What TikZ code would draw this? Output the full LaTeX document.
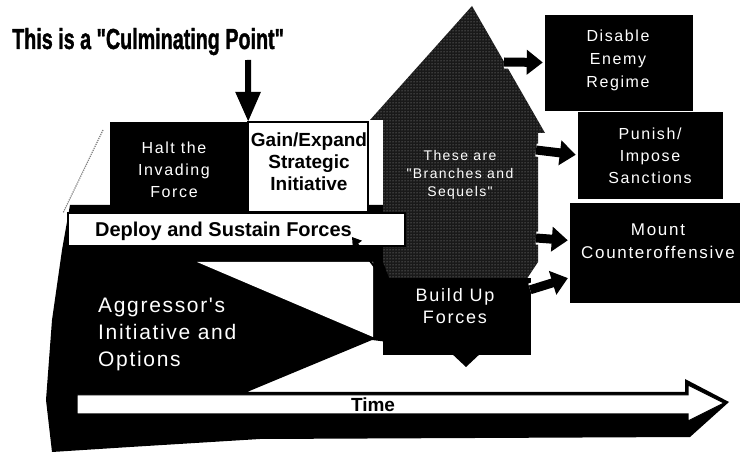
\documentclass[tikz,border=0pt]{standalone}
\usepackage{fontspec}
\usepackage{graphicx}
\setmainfont{Liberation Sans}
\newfontfamily\spacedfont[LetterSpace=10]{Liberation Sans}
\newfontfamily\aggfont[LetterSpace=8]{Liberation Sans}
\newfontfamily\titlefont[BoldFeatures={FakeBold=1.5}]{Liberation Sans}
\usetikzlibrary{arrows.meta,patterns}
\begin{document}
\begin{tikzpicture}[x=1pt,y=-1pt,
  blackbox/.style={fill=black, draw=black, inner sep=0pt},
  whitebox/.style={fill=white, draw=black, line width=1.5pt, inner sep=0pt},
  boxtext/.style={text=white, align=center, inner sep=0pt, font=\spacedfont\fontsize{16}{22}\selectfont},
  boldtext/.style={text=black, align=center, inner sep=0pt, font=\bfseries\fontsize{19}{22}\selectfont},
  fatout/.style={white, line width=13pt, line cap=butt, -{Triangle[length=20pt,width=30pt]}},
  fatin/.style={black, line width=9pt, line cap=butt, shorten >=2pt, -{Triangle[length=16pt,width=24pt]}}
]
\useasboundingbox (0,0) rectangle (740,454);
\fill[white] (0,0) rectangle (740,454);

% large black field (aggressor's initiative + time arrow shadow)
\fill[black] (70,205) -- (412,205) -- (412,345) -- (372,340) -- (247,392) -- (685,392)
  -- (685,379) -- (729,402) -- (690,437) -- (260,439) -- (130,447) -- (52,452)
  -- (46,400) -- (52,320) -- (62,250) -- cycle;
\fill[white] (197,262) -- (373,262) -- (373,337) -- cycle;

% faint dotted edge left of the halt box
\draw[gray, densely dotted, line width=1.2pt] (103,130) -- (63,213);

% house: branches and sequels
\fill[black!90] (472,6) -- (545,133) -- (538,133) -- (538,262) -- (526,280) -- (390,280)
  -- (383,262) -- (383,120) -- (370,120) -- cycle;
\fill[pattern=dots, pattern color=gray!70] (472,6) -- (545,133) -- (538,133) -- (538,262)
  -- (526,280) -- (390,280) -- (383,262) -- (383,120) -- (370,120) -- cycle;

% build up forces
\node[blackbox, minimum width=147pt, minimum height=76pt] (build) at (456.5,316) {};
\fill[black] (450,352) -- (482,352) -- (466,367) -- cycle;

% halt / gain boxes
\node[blackbox, minimum width=138pt, minimum height=90pt] (halt) at (179,167) {};
\node[whitebox, minimum width=120pt, minimum height=90pt] (gain) at (308,167) {};

% deploy bar
\node[whitebox, minimum width=337pt, minimum height=33pt] (deploy) at (236.5,229.5) {};

% time arrow
\filldraw[fill=white, draw=black, line width=1pt] (77,395) -- (688,395) -- (688,385)
  -- (724,403) -- (688,421) -- (688,414) -- (77,414) -- cycle;

% option boxes
\node[blackbox, minimum width=147pt, minimum height=95pt] (disable) at (618.5,62.5) {};
\node[blackbox, minimum width=144pt, minimum height=86pt] (punish) at (650,155) {};
\node[blackbox, minimum width=175pt, minimum height=99pt] (mount) at (657.5,252.5) {};

% arrows from branches/sequels to options
\coordinate (h1) at (504,62);
\coordinate (h2) at (536,150);
\coordinate (h3) at (536,238);
\draw[fatout] (h1) -- (disable.west);
\draw[fatin] (h1) -- (disable.west);
\draw[fatout] (h2) -- (punish.west);
\draw[fatin] (h2) -- (punish.west);
\draw[fatout] (h3) -- ([yshift=12pt]mount.west);
\draw[fatin] (h3) -- ([yshift=12pt]mount.west);
\draw[fatout] ([yshift=-12pt]build.north east) -- ([yshift=-25pt]mount.west);
\draw[fatin] ([yshift=-12pt]build.north east) -- ([yshift=-25pt]mount.west);

% arrow into deploy bar
\coordinate (dtip) at (352,237);
\draw[black, line width=2pt, -{Triangle[length=9pt,width=11pt]}] (build.north west) -- (dtip);

% title
\node[anchor=base west, inner sep=0pt] (title) at (12,49)
  {\scalebox{0.68}[1]{\titlefont\bfseries\fontsize{29}{32}\selectfont This is a "Culminating Point"}};
\coordinate (cp) at (248,60);
\draw[black, line width=6pt, -{Triangle[length=30pt,width=24pt]}] (cp) -- (halt.north east);

% texts
\node[boxtext] (halttxt) at (174,170) {Halt the\\Invading\\Force};
\node[boldtext] (gaintxt) at (309,162) {Gain/Expand\\Strategic\\Initiative};
\node[boldtext, font=\bfseries\fontsize{20}{22}\selectfont] (deploytxt) at (223.5,231) {Deploy and Sustain Forces};
\node[boxtext, font=\spacedfont\fontsize{14}{18}\selectfont] (bstxt) at (460,175) {These are\\"Branches and\\Sequels"};
\node[boxtext, font=\spacedfont\fontsize{18}{22}\selectfont] (buildtxt) at (455,306) {Build Up\\Forces};
\node[boxtext, font=\spacedfont\fontsize{16}{23}\selectfont] (disabletxt) at (618,60) {Disable\\Enemy\\Regime};
\node[boxtext, font=\spacedfont\fontsize{16}{22}\selectfont] (punishtxt) at (650,156) {Punish/\\Impose\\Sanctions};
\node[boxtext, font=\spacedfont\fontsize{17}{23}\selectfont] (mounttxt) at (658,241) {Mount\\Counteroffensive};
\node[text=white, align=left, inner sep=0pt, anchor=west, font=\aggfont\fontsize{21}{27}\selectfont] (aggtxt) at (98,334) {Aggressor's\\Initiative and\\Options};
\node[boldtext] (timetxt) at (373,405) {Time};
\end{tikzpicture}
\end{document}
